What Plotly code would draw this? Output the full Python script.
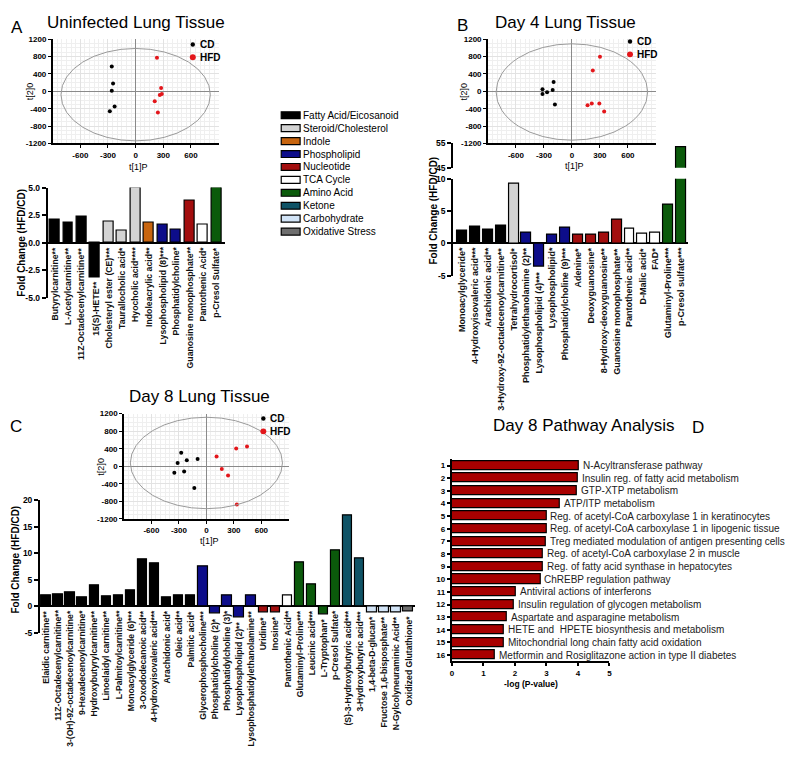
import plotly.graph_objects as go

W, H = 795, 767
FONT = "Liberation Sans, Arial, sans-serif"

# ---------------- DATA ----------------
# PCA score plots (t[1]P, t[2]0)
a_cd_t1 = [-259, -245, -259, -228, -280]
a_cd_t2 = [570, 182, 15, -350, -456]
a_hfd_t1 = [231, 276, 284, 262, 207, 241]
a_hfd_t2 = [775, 76, -61, -84, -228, -486]

b_cd_t1 = [-196, -315, -206, -266, -315, -182]
b_cd_t2 = [213, 46, 30, -23, -61, -304]
b_hfd_t1 = [301, 224, 294, 213, 168, 346]
b_hfd_t2 = [798, 479, -281, -281, -319, -464]

c_cd_t1 = [-275, -314, -214, -96, -350, -243, -132]
c_cd_t2 = [307, 75, 135, 165, -150, -120, -495]
c_hfd_t1 = [111, 325, 443, 168, 236, 332]
c_hfd_t2 = [225, 405, 450, -60, -210, -870]

# Hotelling ellipses (semi-axis t1, semi-axis t2, centre t2) for A, B, C
ellipse_a = [810, 812, 830]
ellipse_b = [1064, 1110, 1042]
ellipse_cy = [-76, -15, 75]

pca_xticks = [-600, -300, 0, 300, 600]
pca_yticks = [-1200, -800, -400, 0, 400, 800, 1200]

classes = ["Fatty Acid/Eicosanoid", "Steroid/Cholesterol", "Indole", "Phospholipid",
           "Nucleotide", "TCA Cycle", "Amino Acid", "Ketone", "Carbohydrate", "Oxidative Stress"]
class_colors = ["#000000", "#d3d3d3", "#c8650f", "#0d0d8a", "#a30e0e",
                "#ffffff", "#0b5a0b", "#0f5366", "#d2e4f7", "#6e6e6e"]

a_names = ["Butyrylcarnitine**", "L-Acetylcarnitine**", "11Z-Octadecenylcarnitine**", "15(S)-HETE**",
           "Cholesteryl ester (CE)***", "Taurallocholic acid*", "Hyocholic acid****", "Indoleacrylic acid**",
           "Lysophospholipid (8)***", "Phosphatidylcholine*", "Guanosine monophosphate**",
           "Pantothenic Acid*", "p-Cresol Sulfate*"]
a_values = [2.13, 1.8, 2.4, -3.1, 1.9, 1.1, 5.0, 1.83, 1.68, 1.17, 3.83, 1.62, 5.0]
a_class = [0, 0, 0, 0, 1, 1, 1, 2, 3, 3, 4, 5, 6]

b_names = ["Monoacylglyceride*", "4-Hydroxyisovaleric acid***", "Arachidonic acid**",
           "3-Hydroxy-9Z-octadecenoylcarnitine**", "Tetrahydrocortisol*", "Phosphatidylethanolamine (2)**",
           "Lysophospholipid (4)***", "Lysophospholipid*", "Phosphatidylcholine (9)***", "Adenine*",
           "Deoxyguanosine*", "8-Hydroxy-deoxyguanosine**", "Guanosine monophosphate**",
           "Pantothenic acid**", "D-Malic acid*", "FAD*", "Glutaminyl-Proline***", "p-Cresol sulfate***"]
b_values = [1.98, 2.54, 2.13, 2.74, 9.19, 1.62, -3.65, 1.37, 2.44, 1.27, 1.27, 1.68, 3.7,
            2.23, 1.42, 1.62, 6.04, 53.5]
b_class = [0, 0, 0, 0, 1, 3, 3, 3, 3, 4, 4, 4, 4, 5, 5, 5, 6, 6]

c_names = ["Elaidic carnitine**", "11Z-Octadecenylcarnitine**", "3-(OH)-9Z-octadecenoylcarnitine*",
           "9-Hexadecenoylcarnitine*", "Hydroxybutyrylcarnitine**", "Linoelaidyl carnitine**",
           "L-Palmitoylcarnitine**", "Monoacylglyceride (6)***", "3-Oxododecanoic acid**",
           "4-Hydroxyisovaleric acid***", "Arachidonic acid*", "Oleic acid**", "Palmitic acid*",
           "Glycerophosphocholine***", "Phosphatidylcholine (2)*", "Phosphatidylcholine (3)*",
           "Lysophospholipid (2)**", "Lysophosphatidylethanolamine**", "Uridine*", "Inosine*",
           "Pantothenic Acid**", "Glutaminyl-Proline***", "Leucinic acid***", "L-Tryptophan*",
           "p-Cresol Sulfate*", "(S)-3-Hydroxybutyric acid***", "3-Hydroxybutyric acid***",
           "1,4-beta-D-glucan*", "Fructose 1,6-bisposphate**", "N-Gylcolyneuraminic Acid**",
           "Oxidized Glutathione*"]
c_values = [2.1, 2.25, 2.6, 1.7, 3.9, 1.8, 2.1, 3.0, 8.84, 8.05, 1.6, 2.0, 1.95,
            7.6, -1.4, 2.0, -2.1, 1.95, -1.1, -1.1, 2.05, 8.35, 4.2, -1.5, 10.55,
            17.25, 8.96, -1.1, -1.1, -1.1, -1.0]
c_class = [0] * 13 + [3] * 5 + [4, 4] + [5] + [6, 6, 6, 6] + [7, 7] + [8, 8, 8] + [9]

d_names = ["N-Acyltransferase pathway", "Insulin reg. of fatty acid metabolism", "GTP-XTP metabolism",
           "ATP/ITP metabolism", "Reg. of acetyl-CoA carboxylase 1 in keratinocytes",
           "Reg. of acetyl-CoA carboxylase 1 in lipogenic tissue",
           "Treg mediated modulation of antigen presenting cells",
           "Reg. of acetyl-CoA carboxylase 2 in muscle", "Reg. of fatty acid synthase in hepatocytes",
           "ChREBP regulation pathway", "Antiviral actions of interferons",
           "Insulin regulation of glycogen metabolism", "Aspartate and asparagine metabolism",
           "HETE and  HPETE biosynthesis and metabolism", "Mitochondrial long chain fatty acid oxidation",
           "Metformin and Rosiglitazone action in type II diabetes"]
d_values = [4.02, 3.99, 3.97, 3.42, 3.0, 3.0, 2.98, 2.9, 2.9, 2.81, 2.03, 1.98, 1.76, 1.66, 1.66, 1.36]
d_rank = list(range(1, 17))

# ---------------- HELPERS ----------------
def xd(a, b):
    return [a / W, b / W]


def yd(top, bottom):
    return [1 - bottom / H, 1 - top / H]


def px(x):
    return x / W


def py(y):
    return 1 - y / H


def tref(i):
    return ("x" if i == 1 else f"x{i}"), ("y" if i == 1 else f"y{i}")


def lkey(i):
    return ("xaxis" if i == 1 else f"xaxis{i}"), ("yaxis" if i == 1 else f"yaxis{i}")


fig = go.Figure()
ann = []
layout_axes = {}


def text(x, y, s, size, weight="normal", xanchor="center", yanchor="middle", angle=0, color="black"):
    ann.append(dict(x=px(x), y=py(y), xref="paper", yref="paper", text=s, showarrow=False,
                    xanchor=xanchor, yanchor=yanchor, textangle=angle,
                    font=dict(family=FONT, size=size, weight=weight, color=color)))


def dot(x, y, r, color):
    fig.add_shape(type="circle", xref="paper", yref="paper",
                  x0=px(x - r), x1=px(x + r), y0=py(y + r), y1=py(y - r),
                  fillcolor=color, line=dict(width=0))


def pca(i, dx, dy, cdx, cdy, hx, hy, k, ytitle_x, xtitle_y, leg_x, leg_y):
    xr, yr = tref(i)
    kx, ky = lkey(i)
    fig.add_trace(go.Scatter(x=cdx, y=cdy, mode="markers", marker=dict(color="black", size=4),
                             xaxis=xr, yaxis=yr, showlegend=False, cliponaxis=False))
    fig.add_trace(go.Scatter(x=hx, y=hy, mode="markers", marker=dict(color="#e3161b", size=4),
                             xaxis=xr, yaxis=yr, showlegend=False, cliponaxis=False))
    fig.add_shape(type="circle", xref=xr, yref=yr, x0=-ellipse_a[k], x1=ellipse_a[k],
                  y0=ellipse_cy[k] - ellipse_b[k], y1=ellipse_cy[k] + ellipse_b[k],
                  line=dict(color="#9a9a9a", width=1), layer="above")
    common = dict(showline=True, linecolor="black", linewidth=1.5, ticks="outside", ticklen=3,
                  tickwidth=1, tickcolor="black", zeroline=True, zerolinecolor="#8a8a8a",
                  zerolinewidth=1, showgrid=True, gridcolor="#e2e2e2", gridwidth=0.6,
                  tickfont=dict(family=FONT, size=8, weight="bold", color="black"), layer="above traces")
    layout_axes[kx] = dict(domain=xd(*dx), range=[-900, 900], anchor=yr, tickmode="array",
                           tickvals=pca_xticks, ticktext=[str(v) for v in pca_xticks],
                           minor=dict(tick0=0, dtick=50, showgrid=True, gridcolor="#efefef", gridwidth=0.5),
                           **common)
    layout_axes[ky] = dict(domain=yd(*dy), range=[-1200, 1200], anchor=xr, tickmode="array",
                           tickvals=pca_yticks, ticktext=[str(v) for v in pca_yticks],
                           minor=dict(tick0=0, dtick=100, showgrid=True, gridcolor="#efefef", gridwidth=0.5),
                           **common)
    text(ytitle_x, (dy[0] + dy[1]) / 2, "t[2]0", 9, angle=-90)
    text((dx[0] + dx[1]) / 2 + 3, xtitle_y, "t[1]P", 9)
    dot(leg_x, leg_y, 2.2, "black")
    dot(leg_x, leg_y + 13, 3, "#e3161b")
    text(leg_x + 5, leg_y, "CD", 10, weight="bold", xanchor="left")
    text(leg_x + 5, leg_y + 13, "HFD", 10, weight="bold", xanchor="left")


def bars(i, dx, dy, names, values, cls, xrange, yrange, tickvals, ticktext, width, label_size,
         labels=True, zero=True):
    xr, yr = tref(i)
    kx, ky = lkey(i)
    fig.add_trace(go.Bar(x=list(range(len(values))), y=values, width=width,
                         marker=dict(color=[class_colors[c] for c in cls], line=dict(color="black", width=1.2)),
                         xaxis=xr, yaxis=yr, showlegend=False))
    layout_axes[kx] = dict(domain=xd(*dx), range=xrange, anchor=yr, showline=False, showticklabels=False,
                           ticks="", zeroline=False, showgrid=False)
    layout_axes[ky] = dict(domain=yd(*dy), range=yrange, anchor=xr, showline=True, linecolor="black",
                           linewidth=2, ticks="outside", ticklen=4, tickwidth=2, tickcolor="black",
                           tickmode="array", tickvals=tickvals, ticktext=ticktext, showgrid=False,
                           zeroline=zero, zerolinecolor="black", zerolinewidth=2,
                           tickfont=dict(family=FONT, size=8.5, weight="bold", color="black"))
    if labels:
        for j, (n, v) in enumerate(zip(names, values)):
            ann.append(dict(x=j, y=min(0, v), xref=xr, yref=yr, text=n, textangle=-90, showarrow=False,
                            xanchor="center", yanchor="top", yshift=-2,
                            font=dict(family=FONT, size=label_size, weight="bold", color="#111")))


# ---------------- PANEL A ----------------
pca(1, (51, 218), (34.7, 140.3), a_cd_t1, a_cd_t2, a_hfd_t1, a_hfd_t2, 0, 29, 164, 192, 40)
bars(2, (46, 224), (185, 297), a_names, a_values, a_class, [-0.52, 12.6], [-5, 5],
     [-5, -2.5, 0, 2.5, 5], ["-5.0", "-2.5", "0.0", "2.5", "5.0"], 0.74, 8.7)
text(20, 241, "Fold Change (HFD/CD)", 10, weight="bold", angle=-90)
text(15, 23, "A", 17)
text(135, 18, "Uninfected Lung Tissue", 17)

# ---------------- LEGEND ----------------
for k, (nm, col) in enumerate(zip(classes, class_colors)):
    yc = 111.7 + k * 13.1
    fig.add_shape(type="rect", xref="paper", yref="paper", x0=px(281), x1=px(300),
                  y0=py(yc + 3.5), y1=py(yc - 3.5), fillcolor=col, line=dict(color="black", width=1.2))
    text(301, yc, nm, 10, xanchor="left")

# ---------------- PANEL B ----------------
pca(3, (489, 658), (34.7, 140.3), b_cd_t1, b_cd_t2, b_hfd_t1, b_hfd_t2, 1, 465, 163, 632, 37)
bars(4, (454, 690), (176, 274.3), b_names, b_values, b_class, [-0.7, 17.5], [-5, 10],
     [-5, 0, 5, 10], ["-5", "0", "5", "10"], 0.77, 9)
bars(5, (454, 690), (140, 165), b_names, b_values, b_class, [-0.7, 17.5], [45, 55],
     [45, 55], ["45", "55"], 0.77, 9, labels=False, zero=False)
text(434, 208, "Fold Change (HFD/CD)", 10, weight="bold", angle=-90)
text(463, 21, "B", 17)
text(567, 18, "Day 4 Lung Tissue", 17)

# ---------------- PANEL C ----------------
pca(6, (122.7, 288.7), (414, 520.7), c_cd_t1, c_cd_t2, c_hfd_t1, c_hfd_t2, 2, 100, 543, 263, 419)
bars(7, (38.3, 416), (502, 636), c_names, c_values, c_class, [-0.49, 30.6], [-5, 20],
     [-5, 0, 5, 10, 15, 20], ["-5", "0", "5", "10", "15", "20"], 0.77, 8.6)
text(14, 562, "Fold Change (HFD/CD)", 10, weight="bold", angle=-90)
text(14, 427, "C", 17)
text(199, 397, "Day 8 Lung Tissue", 17)

# ---------------- PANEL D ----------------
fig.add_trace(go.Bar(x=d_values, y=d_rank, orientation="h", width=0.72,
                     marker=dict(color="#a80000", line=dict(color="black", width=1.2)),
                     xaxis="x8", yaxis="y8", showlegend=False))
layout_axes["xaxis8"] = dict(domain=xd(452.7, 611.3), range=[0, 5], anchor="y8", showline=True,
                             linecolor="black", linewidth=2, ticks="outside", ticklen=3, tickwidth=2,
                             tickcolor="black", tickmode="array", tickvals=[0, 1, 2, 3, 4, 5],
                             showgrid=False, zeroline=False,
                             tickfont=dict(family=FONT, size=8, weight="bold", color="black"))
layout_axes["yaxis8"] = dict(domain=yd(460.3, 665), range=[16.5, 0.5], anchor="x8", showline=True,
                             linecolor="black", linewidth=2, ticks="outside", ticklen=3, tickwidth=2,
                             tickcolor="black", tickmode="array", tickvals=d_rank,
                             ticktext=[str(r) for r in d_rank], showgrid=False, zeroline=False,
                             tickfont=dict(family=FONT, size=8, weight="bold", color="black"))
for r, n, v in zip(d_rank, d_names, d_values):
    ann.append(dict(x=v, y=r, xref="x8", yref="y8", text=n, showarrow=False, xanchor="left",
                    yanchor="middle", xshift=2, font=dict(family=FONT, size=10, color="#222")))
text(532, 688, "-log (P-value)", 8.5, weight="bold")
text(700, 428, "D", 17)
text(585, 426, "Day 8 Pathway Analysis", 17)

fig.update_layout(width=W, height=H, autosize=False, margin=dict(l=0, r=0, t=0, b=0),
                  paper_bgcolor="white", plot_bgcolor="rgba(0,0,0,0)", showlegend=False,
                  bargap=0, annotations=ann, **layout_axes)

fig.write_html("out.html", config={"displayModeBar": False},
               post_script="document.body.style.margin='0';document.body.style.overflow='hidden';")
